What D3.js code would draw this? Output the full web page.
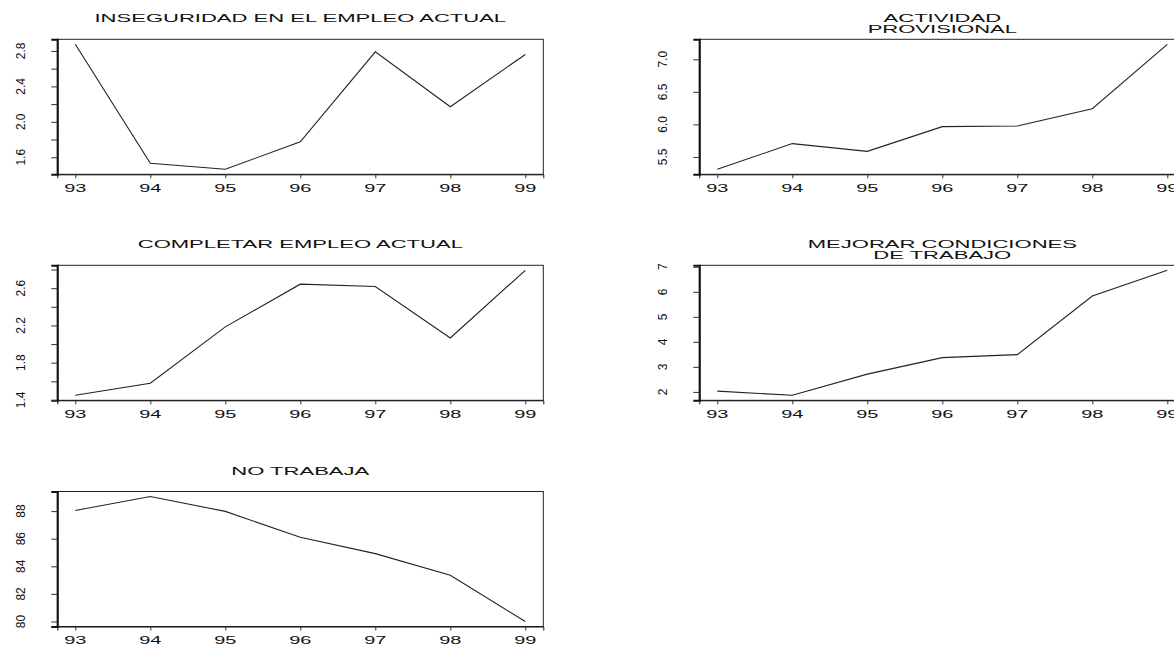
<!DOCTYPE html>
<html>
<head>
<meta charset="utf-8">
<script src="https://cdn.jsdelivr.net/npm/d3@7"></script>
<style>
  body { margin: 0; background: #fff; }
  svg { display: block; }
  text { font-family: "Liberation Sans", Arial, sans-serif; fill: #111; }
</style>
</head>
<body>
<div id="chart"></div>
<script>
// years on the x axis
const years = [93, 94, 95, 96, 97, 98, 99];

// series values
const inseguridad = [2.875, 1.533, 1.464, 1.775, 2.79, 2.17, 2.76];
const actividadProvisional = [5.31, 5.705, 5.585, 5.965, 5.975, 6.24, 7.23];
const completar = [1.45, 1.58, 2.185, 2.643, 2.618, 2.065, 2.792];
const mejorarCondiciones = [2.03, 1.865, 2.71, 3.37, 3.49, 5.83, 6.86];
const noTrabaja = [88.05, 89.06, 87.98, 86.1, 84.92, 83.35, 80.0];

// y ticks and which of them get a label
const ticks1 = [1.6, 1.8, 2.0, 2.2, 2.4, 2.6, 2.8];
const labels1 = ["1.6", "2.0", "2.4", "2.8"];
const ticks2 = [5.5, 6.0, 6.5, 7.0];
const labels2 = ["5.5", "6.0", "6.5", "7.0"];
const ticks3 = [1.4, 1.6, 1.8, 2.0, 2.2, 2.4, 2.6, 2.8];
const labels3 = ["1.4", "1.8", "2.2", "2.6"];
const ticks4 = [2, 3, 4, 5, 6, 7];
const labels4 = ["2", "3", "4", "5", "6", "7"];
const ticks5 = [80, 82, 84, 86, 88];
const labels5 = ["80", "82", "84", "86", "88"];

const panels = [
  { title: ["INSEGURIDAD EN EL EMPLEO ACTUAL"], values: inseguridad, ticks: ticks1, labels: labels1, fmt: ".1f", col: 0, row: 0 },
  { title: ["ACTIVIDAD", "PROVISIONAL"], values: actividadProvisional, ticks: ticks2, labels: labels2, fmt: ".1f", col: 1, row: 0 },
  { title: ["COMPLETAR EMPLEO ACTUAL"], values: completar, ticks: ticks3, labels: labels3, fmt: ".1f", col: 0, row: 1 },
  { title: ["MEJORAR CONDICIONES", "DE TRABAJO"], values: mejorarCondiciones, ticks: ticks4, labels: labels4, fmt: "d", col: 1, row: 1 },
  { title: ["NO TRABAJA"], values: noTrabaja, ticks: ticks5, labels: labels5, fmt: "d", col: 0, row: 2 }
];

const W = 1174, H = 645;
const colX = [57.3, 699.3];
const rowY = [39.3, 265.3, 491.5];
const pw = 486, ph = 135;
const titleStretch = 2.1;
const xLabelStretch = 1.9;

const svg = d3.select("#chart").append("svg")
  .attr("width", W)
  .attr("height", H);

// R style axis range: data range plus 4% on each side
function padded(ext) {
  const d = (ext[1] - ext[0]) * 0.04;
  return [ext[0] - d, ext[1] + d];
}

panels.forEach(p => {
  const g = svg.append("g")
    .attr("transform", `translate(${colX[p.col]},${rowY[p.row]})`);

  const x = d3.scaleLinear().domain(padded(d3.extent(years))).range([0, pw]);
  const y = d3.scaleLinear().domain(padded(d3.extent(p.values))).range([ph, 0]);
  const f = d3.format(p.fmt);

  // line
  g.append("path")
    .datum(years.map((yr, i) => [yr, p.values[i]]))
    .attr("fill", "none")
    .attr("stroke", "#222")
    .attr("stroke-width", 1.1)
    .attr("d", d3.line().x(d => x(d[0])).y(d => y(d[1])));

  // box
  g.append("rect")
    .attr("x", 0).attr("y", 0)
    .attr("width", pw).attr("height", ph)
    .attr("fill", "none")
    .attr("stroke", "#222")
    .attr("stroke-width", 1);

  // y axis
  const ya = g.append("g")
    .call(d3.axisLeft(y).tickValues(p.ticks).tickSize(6).tickFormat(""));
  ya.select(".domain").attr("stroke", "#111").attr("stroke-width", 2);
  ya.selectAll(".tick line").attr("stroke", "#333");

  g.selectAll(".ylab")
    .data(p.ticks.filter(t => p.labels.includes(f(t))))
    .enter().append("text")
    .attr("class", "ylab")
    .attr("text-anchor", "middle")
    .attr("font-size", 13)
    .attr("transform", t => `translate(-32.5,${y(t)}) rotate(-90) scale(0.92,1)`)
    .text(t => f(t));

  // x axis
  const xa = g.append("g")
    .attr("transform", `translate(0,${ph})`)
    .call(d3.axisBottom(x).tickValues(years).tickSize(4).tickFormat(""));
  xa.select(".domain").attr("stroke", "#111");
  xa.selectAll(".tick line").attr("stroke", "#333");

  g.selectAll(".xlab")
    .data(years)
    .enter().append("text")
    .attr("class", "xlab")
    .attr("text-anchor", "middle")
    .attr("font-size", 10.5)
    .attr("transform", d => `translate(${x(d)},${ph + 17.5}) scale(${xLabelStretch},1)`)
    .text(d => d);

  // title
  const ty = p.title.length === 1 ? [-17] : [-17.5, -6.3];
  p.title.forEach((t, i) => {
    g.append("text")
      .attr("text-anchor", "middle")
      .attr("font-size", 10.5)
      .attr("transform", `translate(${pw / 2},${ty[i]}) scale(${titleStretch},1)`)
      .text(t);
  });
});
</script>
</body>
</html>
